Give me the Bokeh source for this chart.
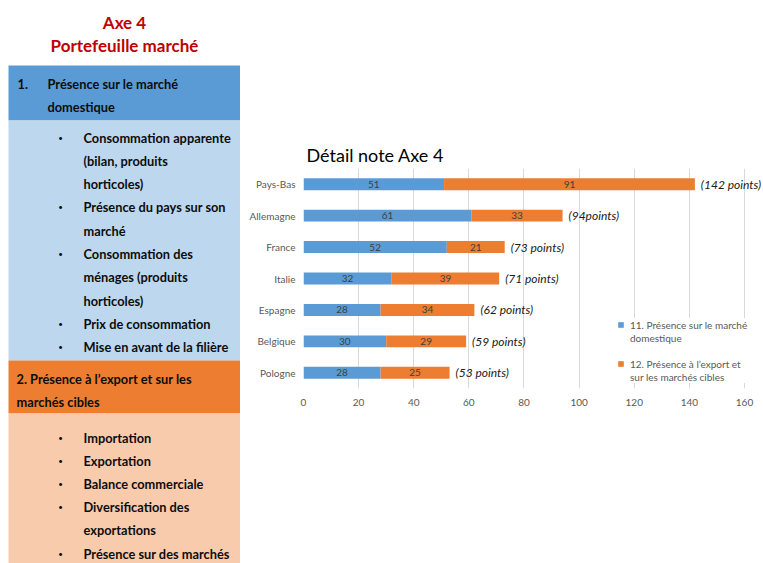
from bokeh.plotting import figure
from bokeh.models import (Range1d, FactorRange, FixedTicker, Legend, LegendItem,
                          ColumnDataSource, Title, Spacer)
from bokeh.layouts import row, column
from bokeh.embed import file_html
from bokeh.resources import INLINE
from bokeh.core.properties import value

# ---------------- data ----------------
countries = ["Pays-Bas", "Allemagne", "France", "Italie", "Espagne", "Belgique", "Pologne"]
domestic = [51, 61, 52, 32, 28, 30, 28]
export = [91, 33, 21, 39, 34, 29, 25]
total_labels = ["(142 points)", "(94points)", "(73 points)", "(71 points)",
                "(62 points)", "(59 points)", "(53 points)"]
x_ticks = [0, 20, 40, 60, 80, 100, 120, 140, 160]
series_names = ["11. Présence sur le marché", "domestique",
                "12. Présence à l’export et", "sur les marchés cibles"]
chart_title = "Détail note Axe 4"

panel_title = ["Axe 4", "Portefeuille marché"]
section1_head = ["Présence sur le marché", "domestique"]
section1_lines = ["Consommation apparente", "(bilan, produits", "horticoles)",
                  "Présence du pays sur son", "marché", "Consommation des",
                  "ménages (produits", "horticoles)", "Prix de consommation",
                  "Mise en avant de la filière"]
section1_bullet = [1, 0, 0, 1, 0, 1, 0, 0, 1, 1]
section2_head = ["2. Présence à l’export et sur les", "marchés cibles"]
section2_lines = ["Importation", "Exportation", "Balance commerciale",
                  "Diversification des", "exportations", "Présence sur des marchés"]
section2_bullet = [1, 1, 1, 1, 0, 1]

BLUE = "#5B9BD5"
ORANGE = "#ED7D31"
LIGHT_BLUE = "#BDD7EE"
LIGHT_ORANGE = "#F8CBAD"
FONT_NAME = "Lato"
FONT = value(FONT_NAME)

W, H = 763, 563
LW = 240                      # width of the left text panel
FL, FT, FB = 303, 168, 388    # chart frame left / top / bottom (page px)
TOP = 1                       # small spacer above the chart figure

# ---------------- left panel ----------------
L = figure(width=LW, height=H, x_range=Range1d(0, LW), y_range=Range1d(H, 0),
           toolbar_location=None, output_backend="svg", min_border=0,
           x_axis_type=None, y_axis_type=None, title=None)
L.grid.visible = False
L.outline_line_color = None

L.quad(left=[8, 8, 8, 8], right=[241, 240, 241, 240], top=[65, 120, 360, 413],
       bottom=[120, 360, 413, H],
       fill_color=[BLUE, LIGHT_BLUE, ORANGE, LIGHT_ORANGE], line_color=None)

L.text(x=[124, 124], y=[22, 45], text=panel_title, text_align="center",
       text_baseline="middle", text_font=FONT, text_font_size="17px",
       text_font_style="bold", text_color="#C00000")

bold = dict(text_baseline="middle", text_font=FONT, text_font_size="12.8px",
            text_font_style="bold", text_color="#0d0d0d")
dot = dict(text_baseline="middle", text_font=FONT, text_font_size="8px",
           text_font_style="normal", text_color="#0d0d0d", text_align="center")

L.text(x=[17], y=[83], text=["1."], **bold)
L.text(x=[47, 47], y=[83, 106.3], text=section1_head, **bold)

y1 = [137 + i * 23.3 for i in range(len(section1_lines))]
L.text(x=[83] * len(section1_lines), y=y1, text=section1_lines, **bold)
yb1 = [y for y, b in zip(y1, section1_bullet) if b]
L.text(x=[60] * len(yb1), y=yb1, text=["•"] * len(yb1), **dot)

L.text(x=[16, 16], y=[378, 401.5], text=section2_head, **bold)
y2 = [437 + i * 23.2 for i in range(len(section2_lines))]
L.text(x=[83] * len(section2_lines), y=y2, text=section2_lines, **bold)
yb2 = [y for y, b in zip(y2, section2_bullet) if b]
L.text(x=[60] * len(yb2), y=yb2, text=["•"] * len(yb2), **dot)

# ---------------- chart ----------------
total = [d + e for d, e in zip(domestic, export)]
src = ColumnDataSource(dict(
    country=countries, domestic=domestic, export=export, total=total,
    mid_d=[d / 2 for d in domestic],
    mid_e=[d + e / 2 for d, e in zip(domestic, export)],
    dom_txt=[str(d) for d in domestic], exp_txt=[str(e) for e in export],
    label=total_labels))

PH = H - TOP - 1
p = figure(width=W - LW, height=PH, y_range=FactorRange(factors=countries[::-1]),
           x_range=Range1d(0, 166.9), toolbar_location=None, output_backend="svg",
           min_border_left=FL - LW, min_border_right=0, min_border_top=FT - TOP,
           min_border_bottom=PH - (FB - TOP))
p.outline_line_color = None
p.title = Title(text=chart_title, align="left", offset=3, standoff=5,
                text_font=FONT_NAME, text_font_size="18px", text_font_style="normal",
                text_color="#000000")

r1 = p.hbar(y="country", left=0, right="domestic", height=0.38, fill_color=BLUE,
            line_color=None, source=src)
r2 = p.hbar(y="country", left="domestic", right="total", height=0.38,
            fill_color=ORANGE, line_color=None, source=src)

seg = dict(y="country", text_align="center", text_baseline="middle",
           text_font=FONT, text_font_size="10px", text_color="#404040", source=src)
p.text(x="mid_d", text="dom_txt", **seg)
p.text(x="mid_e", text="exp_txt", **seg)
p.text(x="total", y="country", text="label", x_offset=6, text_baseline="middle",
       text_font=FONT, text_font_size="12px", text_font_style="italic",
       text_color="#1a1a1a", source=src)

p.xaxis.ticker = FixedTicker(ticks=x_ticks)
p.xgrid.ticker = FixedTicker(ticks=x_ticks)
p.xgrid.grid_line_color = "#D9D9D9"
p.ygrid.grid_line_color = None
for ax in (p.xaxis, p.yaxis):
    ax.axis_line_color = None
    ax.major_tick_line_color = None
    ax.minor_tick_line_color = None
    ax.major_tick_out = 0
    ax.major_tick_in = 0
    ax.major_label_text_font = FONT_NAME
    ax.major_label_text_font_size = "10px"
    ax.major_label_text_color = "#595959"
p.xaxis.major_label_standoff = 10
p.yaxis.major_label_standoff = 8

dummy = p.scatter(x=[], y=[], fill_alpha=0, line_alpha=0)
items = [
    LegendItem(label=series_names[0], renderers=[r1]),
    LegendItem(label=series_names[1], renderers=[dummy]),
    LegendItem(label=" ", renderers=[dummy]),
    LegendItem(label=series_names[2], renderers=[r2]),
    LegendItem(label=series_names[3], renderers=[dummy]),
]
legend = Legend(items=items, location=(314, 5), glyph_width=7, glyph_height=7,
                label_height=13, spacing=0, padding=4, margin=0, label_standoff=6,
                background_fill_color="white", background_fill_alpha=1,
                border_line_color=None, label_text_font=FONT_NAME,
                label_text_font_size="10px", label_text_color="#595959")
p.add_layout(legend)

layout = row(L, column(Spacer(width=W - LW, height=TOP), p, spacing=0), spacing=0)
open("out.html", "w").write(file_html(layout, INLINE))
